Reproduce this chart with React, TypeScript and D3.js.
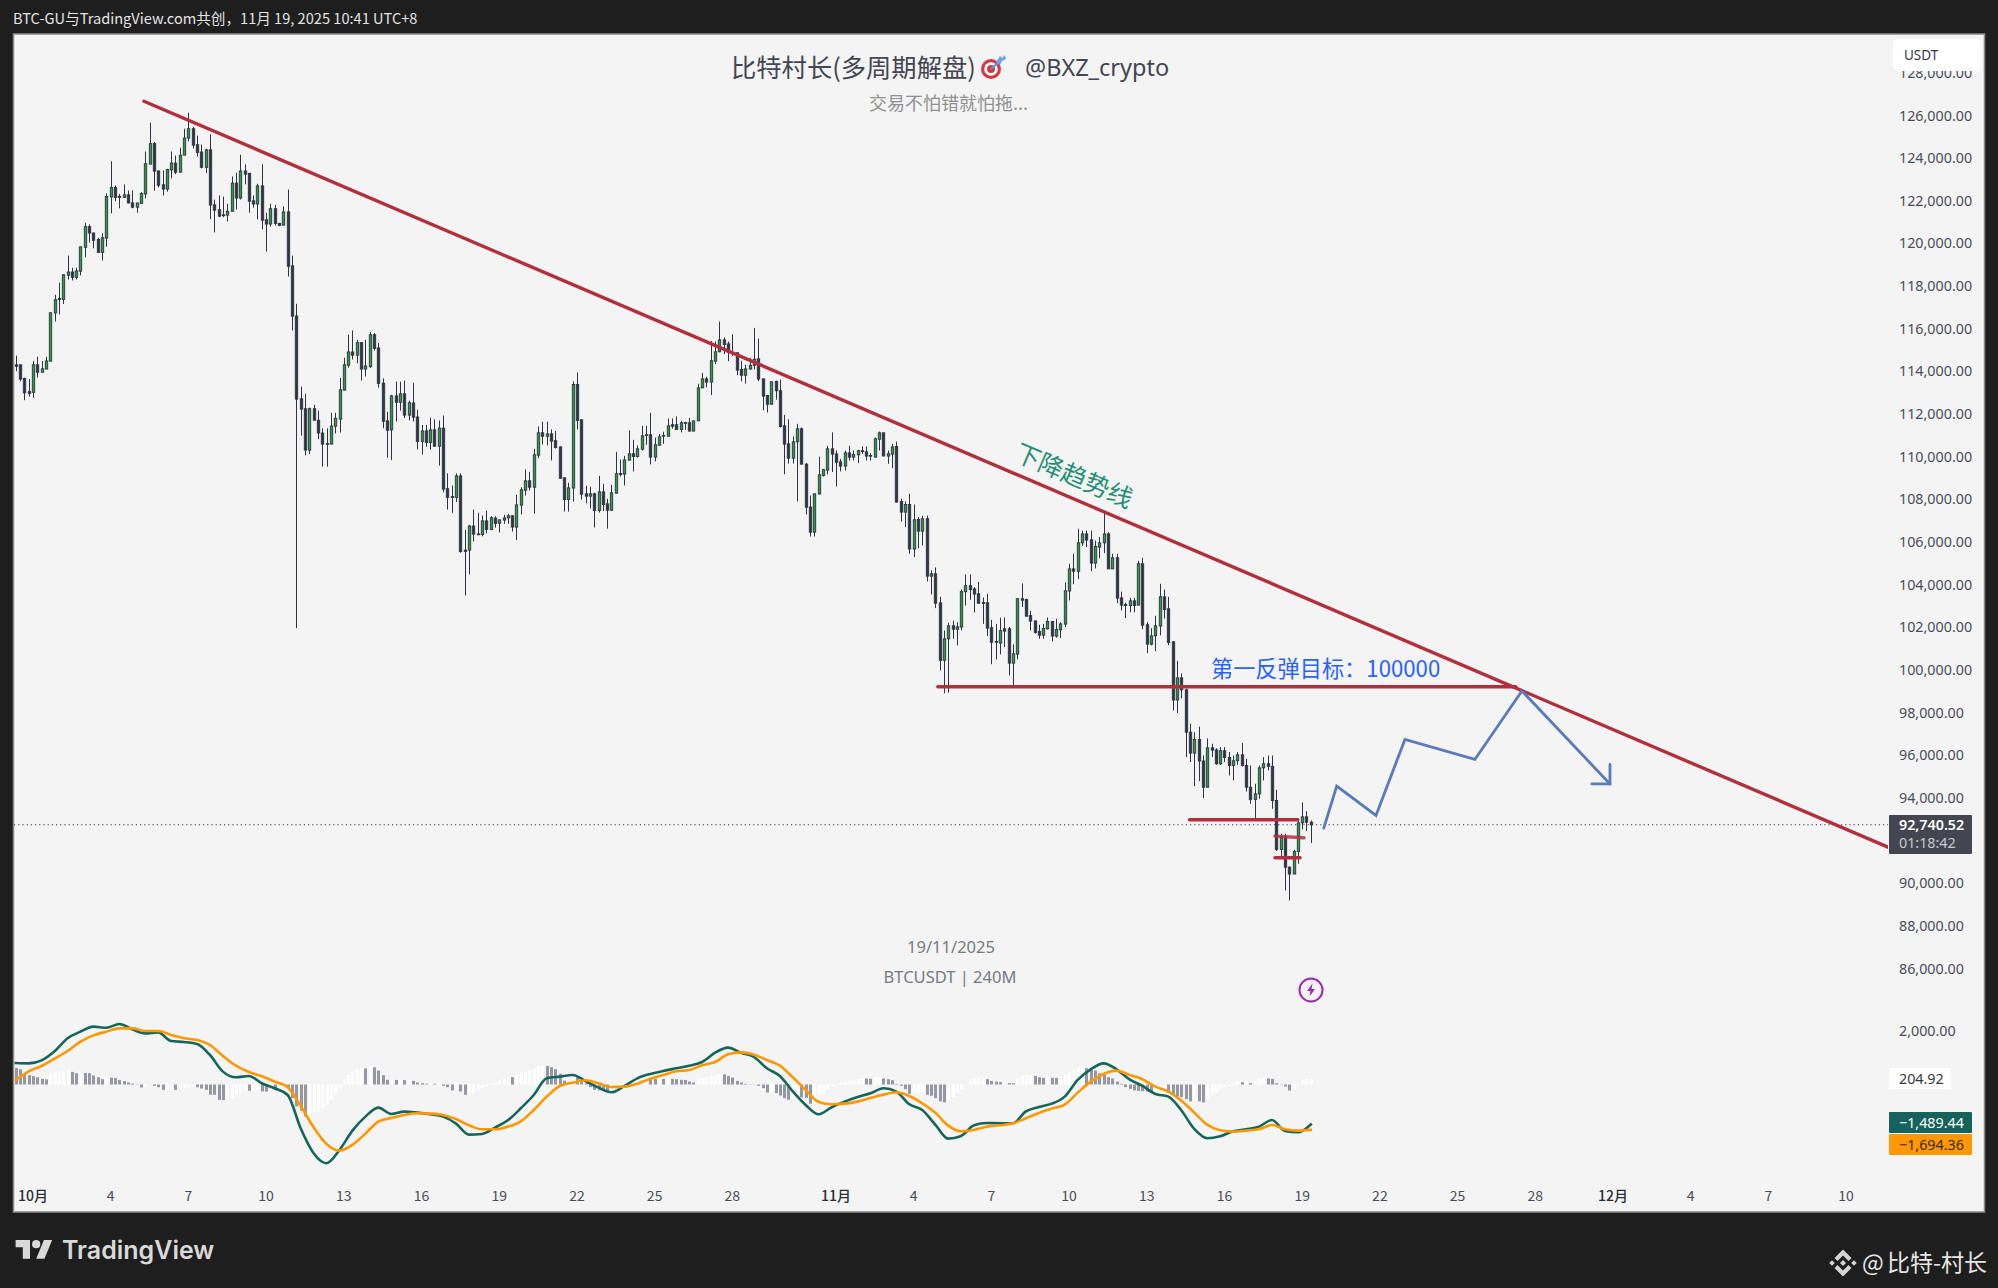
import * as d3 from 'd3'

// 240M BTCUSDT candles as [open, high, low, close], first bar sits 4 bars before the 10月 tick
const candlesOct = [
[114310,114740,114010,114240],[114310,114310,113540,113640],[113670,113710,112650,112990],[113050,113640,112820,112970],
[113020,114490,112770,114310],[114310,114690,113710,113960],[113960,114490,113960,114120],[114110,114690,114110,114490],
[114480,116750,114480,116750],[116740,117590,116340,117360],[117420,118160,116670,117370],[117370,118560,117160,118530],
[118510,119430,118310,118660],[118660,118860,118260,118410],[118410,118860,118310,118710],[118700,119850,118500,119840],
[119820,120970,119350,120790],[120790,120890,120040,120490],[120490,120510,119770,120150],[120190,120270,119570,119580],
[119580,120470,119200,120270],[120250,122350,119850,122200],[122180,123860,121410,122620],[122620,122720,121980,122160],
[122210,122320,121650,122160],[122160,122770,122150,122280],[122280,122480,121880,121900],[121900,122480,121650,121700],
[121700,121900,121440,121900],[121880,122400,121850,122350],[122320,124310,122110,123740],[123720,125660,123720,124680],
[124680,124760,122480,123390],[123400,123420,122630,122730],[122750,123420,122250,122550],[122550,123500,122430,123470],
[123450,124310,123050,123770],[123770,124120,123250,123340],[123340,124490,123340,124140],[124140,125380,124140,124940],
[124940,126130,124790,125380],[125380,125460,124460,124610],[124630,125060,124070,124270],[124290,124640,123520,123570],
[123570,124440,123300,124390],[124390,125110,121140,121800],[121810,122050,120520,121560],[121580,122250,121230,121280],
[121340,122200,121230,121310],[121330,121860,121030,121510],[121510,123140,121510,122830],[122830,123320,121590,122130],
[122130,124160,122060,123400],[123400,123710,122770,123250],[123290,123300,121440,121980],[122000,122250,121680,121850],
[121850,122800,121130,122700],[122700,123710,120660,121090],[121110,121440,119620,120910],[120910,121860,120790,121630],
[121630,121810,120840,120940],[120940,120970,120810,120840],[120860,121730,120840,121480],[121480,122530,118450,118930],
[118950,119430,115920,116590],[116600,117170,101960,112700],[112720,113290,110990,112230],[112250,112950,110070,110310],
[110310,112300,110120,112250],[112250,112430,111710,111710],[111710,112160,110820,111110],[111110,111330,109530,110590],
[110620,111330,109530,110590],[110590,112060,110590,111440],[111430,112060,111090,111800],[111760,113690,111130,113140],
[113120,114640,113120,114310],[114290,115720,114170,114910],[114910,115920,114560,114760],[114760,115480,114380,115350],
[115350,115380,113570,114110],[114110,115480,113760,114260],[114220,115850,114170,115720],[115720,115800,114980,115080],
[115100,115330,113240,113440],[113450,113670,111330,111660],[111680,112110,109950,111240],[111260,112900,109840,112850],
[112850,113520,111650,112550],[112550,113520,112160,112950],[112950,113570,111810,111950],[111950,112630,111700,112530],
[112520,113470,111650,111850],[111860,112200,110340,110720],[110720,111490,110100,111210],[111210,111490,110470,110670],
[110670,111830,110340,111260],[111260,111750,110490,110490],[110490,111700,109580,111340],[111340,111930,108330,108480],
[108500,109220,107520,108090],[108130,108650,107370,108090],[108090,109220,107880,109100],[109100,109220,105500,105550],
[105620,106570,103490,105560],[105620,106800,104480,106750],[106750,107520,106020,106370],[106380,107370,106320,106350],
[106350,107240,106270,106990],[106990,107470,106400,106590],[106590,107210,106550,107140],[107120,107210,106670,106870],
[106880,107040,106450,107040],[107030,107280,106850,107130],[107130,107320,106850,107230],[107230,107240,106490,106700],
[106700,108210,106090,107740],[107730,108570,107290,108450],[108430,109400,108180,108870],[108870,109290,108420,108570],
[108570,110370,107340,110090],[110070,111420,109930,111120],[111120,111640,110570,110960],[110960,111640,110530,111070],
[111070,111280,109820,110730],[110750,111210,110380,110430],[110460,110480,108990,108990],[109010,109010,107430,107990],
[107990,108780,107430,108540],[108530,113530,107900,113390],[113390,113950,111280,111700],[111730,111750,107990,108240],
[108260,108640,107810,108150],[108150,108590,107570,108260],[108260,108310,106680,107480],[107480,109100,107380,108350],
[108350,108730,107450,107760],[107790,108030,106630,107490],[107490,108680,107480,108310],[108290,110230,108280,109200],
[109210,109870,109070,109170],[109180,110040,108650,109850],[109840,111230,109810,110140],[110140,110790,109310,110010],
[110010,110530,109960,110370],[110350,111450,110290,110980],[111000,111450,110560,111030],[111030,112060,109640,109980],
[109980,110900,109780,110560],[110540,111070,110500,110930],[110960,111170,110600,111000],[110960,111790,110950,111450],
[111500,111790,111320,111430],[111500,111890,111280,111280],[111280,111670,111140,111590],[111600,111640,111260,111570],
[111590,111820,111200,111200],[111200,111680,111200,111680],[111680,113420,111680,113230],[113230,113930,113210,113650],
[113650,113750,113250,113500],[113500,115430,112890,114500],[114480,115400,114340,114920],[114920,116340,114900,115480],
[115480,115590,114810,115260],[115290,115400,114480,114890],[114890,115730,114730,114860],[114870,114900,113820,114060],
[114090,114500,113530,113820],[113820,114310,113430,114120],[114110,114640,114090,114290],[114290,116040,114090,114570],
[114590,115540,113540,113640],[113650,113650,112170,112840],[112870,112900,112070,112460],[112460,113530,112460,113510],
[113530,113570,112680,113090],[113090,113620,111370,111420],[111450,111960,109180,110590],[110600,111750,109680,109930],
[109930,110950,109680,110700],[110700,111540,107900,111310],[111310,111370,109650,109650],[109650,109710,107290,107630],
]

const candlesNov = [
[107640,108180,106260,106460],[106460,108260,106260,108260],[108250,110000,108240,109150],[109120,109430,109070,109390],
[109370,110510,109170,110370],[110370,111140,109280,110120],[110130,110290,108600,109740],[109760,109890,109310,109560],
[109560,110290,109350,110180],[110180,110510,109820,109980],[109980,110290,109820,110100],[110090,110320,109700,110280],
[110280,110480,110130,110240],[110230,110480,109820,110030],[110060,110170,109820,110030],[109980,110900,109960,110840],
[110820,111180,110290,111120],[111120,111120,110030,110030],[110030,110290,109670,110140],[110120,110600,109460,110460],
[110480,110710,107870,107870],[107900,108030,106960,107400],[107400,107900,106700,107760],[107760,108260,105450,105670],
[105670,107760,105290,107040],[107060,107170,105710,106510],[106510,107230,105840,107090],[107090,107240,104150,104400],
[104400,104670,103540,104510],[104510,104810,102900,103130],[103150,103430,99980,100450],[100450,101850,98910,101460],
[101460,102210,98940,102070],[102070,102310,101460,101910],[101910,102240,101150,102020],[102010,103770,101850,103670],
[103670,104480,103020,103950],[103950,104480,103290,103770],[103800,103880,102700,103560],[103570,104130,103100,103130],
[103160,103400,102160,103120],[103150,103570,101590,101960],[101980,102350,100270,101300],[101340,102160,100490,101300],
[101260,102450,100730,101840],[101930,102460,101070,101820],[101930,102010,99740,100320],[100320,101200,99230,100760],
[100740,103350,100490,103340],[103340,104060,102950,103270],[103300,103340,102520,102520],[102550,102770,101850,102290],
[102300,102320,101700,101760],[101800,102120,101460,101630],[101630,102160,101460,101950],[101930,102460,101900,102270],
[102270,102270,101340,101590],[101590,102400,101510,101900],[101880,102240,101490,102160],[102150,104100,102010,103710],
[103700,104980,103260,104740],[104740,105450,104020,104630],[104630,106620,104260,105960],[105960,106530,105810,106380],
[106380,106540,105760,106090],[106100,106540,104630,105010],[105010,106070,104760,105790],[105760,106230,105230,105960],
[105960,107480,105480,106380],[106380,106460,104740,104740],[104740,105450,104730,105260],[105260,105450,103130,103370],
[103380,103670,102790,103040],[103070,103160,102430,103020],[103020,103380,102700,103240],[103240,103380,102710,103020],
[103040,105120,103040,104980],[104980,105260,101910,102100],[102120,102240,100790,101210],[101210,101960,101150,101600],
[101600,102540,100880,102070],[102060,104040,101620,103430],[103430,103770,102410,102840],[102870,103430,101160,101290],
[101320,101340,98100,98590],[98590,100430,97980,99630],[99630,99840,98660,99070],[99070,99120,95910,97080],
[97080,97480,95680,96100],[96100,97080,94550,96740],[96740,97340,94790,95730],[95730,95990,93990,94500],
[94500,96790,94500,96350],[96350,96540,95910,96240],[96250,96330,95550,95600],[95600,96380,95550,96210],
[96210,96380,95680,95900],[95900,96150,95050,95520],[95520,95990,94820,95740],[95740,96150,95550,96020],
[96020,96580,95470,95520],[95520,95830,94300,94500],[94500,95520,93720,93930],[93930,94660,92970,94190],
[94190,95520,93960,95410],[95410,95910,94820,95600],[95600,95990,95290,95480],[95480,95990,93490,93880],
[93880,94380,91510,91580],[91580,92320,91150,92160],[92160,92320,89660,90750],[90750,90790,89190,90430],
[90430,91570,90430,91490],[91490,93020,90910,92830],[92830,93790,92520,93110],[93110,93370,92440,92860],
[92860,92940,91880,92740],
]

// MACD and signal, read every third bar starting at bar -4
const macdLine = [
803,790,902,1238,1723,1971,2158,2120,2257,2058,1909,1946,1623,1586,1511,1101,480,268,318,45,-142,-391,-1634,-2566,-2939,
-2442,-1721,-1199,-863,-1099,-1012,-1049,-1111,-1199,-1460,-1870,-1845,-1609,-1335,-888,-391,231,293,355,131,-117,-291,-55,231,393,504,604,703,
840,1188,1375,1188,1026,604,318,-254,-763,-1111,-850,-639,-465,-328,-142,-266,-739,-950,-1497,-2019,-1919,-1522,-1435,-1447,-1447,
-1000,-838,-714,-453,169,567,790,567,194,-55,-353,-453,-962,-1658,-2006,-1932,-1745,-1671,-1571,-1323,-1733,-1783,-1489.44,
]
const signalLine = [
169,492,691,964,1250,1598,1834,1971,2095,2095,1996,1996,1847,1723,1660,1474,1064,703,467,306,107,-105,-801,-1596,-2218,
-2466,-2255,-1832,-1385,-1248,-1136,-1074,-1087,-1136,-1286,-1522,-1671,-1671,-1571,-1373,-950,-453,-55,69,156,45,-92,-80,32,218,355,492,542,
716,840,1126,1200,1113,915,703,268,-204,-652,-739,-714,-639,-502,-378,-291,-428,-701,-1049,-1534,-1745,-1696,-1571,-1522,-1447,
-1261,-1062,-900,-751,-304,107,393,517,355,194,-80,-266,-602,-1049,-1497,-1708,-1758,-1720,-1671,-1509,-1671,-1720,-1694.36,
]

// histogram, one value per bar
const histValues = [
620,570,400,350,310,270,210,190,370,440,480,510,515,470,420,
440,430,420,335,270,200,260,255,240,170,125,75,35,
-10,-110,-50,-10,-50,-100,-200,-190,-180,-200,-170,-140,-100,-70,-100,-150,-200,
-380,-385,-570,-580,-570,-510,-385,-300,-225,-235,-225,-215,-260,-265,-200,-210,-130,-100,-105,
-510,-820,-980,-1190,-1130,-1040,-1000,-880,-750,-570,-320,-120,200,360,480,570,
610,600,650,640,520,350,175,180,170,175,165,170,135,75,50,25,50,25,50,
-50,-100,-220,-180,-260,-385,-320,-300,-220,-140,-75,25,75,150,220,275,270,335,420,480,545,580,
695,710,695,645,570,400,140,170,300,270,110,50,-100,-200,-220,-240,-260,
-100,-75,-25,75,135,175,235,270,300,235,210,270,210,235,210,200,
175,170,110,75,200,260,285,320,360,385,380,320,260,135,75,25,10,5,-50,-135,-300,
-290,-320,-410,-510,-570,-535,-470,-480,-500,-720,-570,-385,-320,-175,-75,0,50,100,135,175,210,225,220,215,270,275,225,200,160,
25,-50,-175,-350,-300,-295,-290,-385,-420,-510,-630,-670,-570,-470,-320,-175,25,135,200,225,235,
200,135,110,90,100,50,45,235,320,360,365,320,270,250,270,250,245,270,360,480,545,610,620,
610,600,520,420,360,270,225,110,25,-100,-160,-220,-240,-250,-270,-290,-270,-240,-210,
-320,-360,-440,-470,-545,-630,-570,-630,-670,-510,-385,-300,-175,-100,-50,25,110,85,100,50,125,200,250,225,210,50,-10,-75,-225,-175,-50,125,200,204.92,
]

const timeTicks: [number, string][] = [
  [0, '10月'], [18, '4'], [36, '7'], [54, '10'], [72, '13'], [90, '16'], [108, '19'], [126, '22'], [144, '25'], [162, '28'],
  [186, '11月'], [204, '4'], [222, '7'], [240, '10'], [258, '13'], [276, '16'], [294, '19'], [312, '22'], [330, '25'], [348, '28'],
  [366, '12月'], [384, '4'], [402, '7'], [420, '10'],
]
const priceTicks = d3.range(86000, 128001, 2000).filter(p => p !== 92000)

// drawings, each point is [bar, price]
const trendLine: [number, number][] = [[25.7, 126670], [429.7, 91690]]
const supportLine: [number, number][] = [[209.6, 99212], [343.5, 99212]]
const zoneTop: [number, number][] = [[267.9, 92974], [293, 92974]]
const zoneMid: [number, number][] = [[287.7, 92210], [294.4, 92130]]
const zoneLow: [number, number][] = [[287.7, 91194], [293.5, 91194]]
const forecastPath: [number, number][] = [[299, 92581], [302, 94551], [311.1, 93177], [317.8, 96741], [334, 95803], [344.9, 99015], [365.3, 94655]]
const arrowHead: [number, number][] = [[361.1, 94655], [365.3, 94655], [365.3, 95568]]

const LAST_PRICE = 92740.52
const UI_FONT = '"Noto Sans", "Noto Sans CJK SC", sans-serif'
const CJK_FONT = '"Noto Sans CJK SC", "Noto Sans", sans-serif'

const x = d3.scaleLinear().domain([0, 366]).range([33, 1613])
const yPrice = d3.scaleLinear().domain([86000, 126000]).range([968.5, 115.5])
const yMacd = d3.scaleLinear().domain([0, 2000]).range([1084.5, 1030.9])

const drawLine = d3.line<[number, number]>().x(d => x(d[0])).y(d => yPrice(d[1]))

function Candles() {
  const candles = [...candlesOct, ...candlesNov]
  return (
    <g>
      {candles.map(([o, h, l, c], i) => {
        const cx = Math.round(x(i - 4)) + 0.5
        const top = yPrice(Math.max(o, c))
        const bottom = yPrice(Math.min(o, c))
        return (
          <g key={i}>
            <line x1={cx} x2={cx} y1={yPrice(h)} y2={yPrice(l)} stroke="#2f3443" strokeWidth={1} />
            <rect
              x={cx - 1.2}
              y={top}
              width={2.4}
              height={Math.max(bottom - top, 0.8)}
              fill={c >= o ? '#26a03c' : '#2f3443'}
              stroke="#2f3443"
              strokeWidth={0.9}
            />
          </g>
        )
      })}
    </g>
  )
}

function MacdPane() {
  const macdX = (k: number) => x(-4 + k * 3)
  const line = d3.line<number>().x((_, k) => macdX(k)).y(d => yMacd(d)).curve(d3.curveMonotoneX)
  return (
    <g>
      {histValues.map((v, i) => {
        const rising = i === 0 ? false : v >= histValues[i - 1]
        const bx = Math.round(x(i - 4)) - 1
        const y0 = yMacd(0)
        const y1 = yMacd(v)
        return (
          <rect
            key={i}
            x={bx}
            y={Math.min(y0, y1)}
            width={3}
            height={Math.abs(y1 - y0)}
            fill={rising ? '#ffffff' : '#9598a1'}
          />
        )
      })}
      <path d={line(macdLine) ?? ''} fill="none" stroke="#14665a" strokeWidth={2.6} strokeLinecap="square" />
      <path d={line(signalLine) ?? ''} fill="none" stroke="#ff9800" strokeWidth={2.6} strokeLinecap="square" />
    </g>
  )
}

function PriceAxis() {
  const labelX = 1899
  return (
    <g fontFamily={UI_FONT} fontSize={14.3} fill="#4a4d57">
      {priceTicks.map(p => (
        <text key={p} x={labelX} y={yPrice(p)} dy="0.35em">
          {d3.format(',.2f')(p)}
        </text>
      ))}
      <text x={labelX} y={yMacd(2000)} dy="0.35em">2,000.00</text>

      <rect x={1893} y={39} width={88} height={32} rx={5} fill="#ffffff" />
      <text x={1904} y={55} dy="0.35em" fill="#333744" fontSize={13.5}>USDT</text>

      <rect x={1889} y={815} width={83} height={39} rx={1} fill="#434651" />
      <text x={1899} y={825} dy="0.35em" fill="#ffffff" fontWeight={600}>92,740.52</text>
      <text x={1899} y={843} dy="0.35em" fill="#c9cad0">01:18:42</text>

      <rect x={1889} y={1068} width={62} height={21} rx={1} fill="#ffffff" />
      <text x={1899} y={1078.5} dy="0.35em" fill="#333744">204.92</text>

      <rect x={1889} y={1112} width={83} height={21} rx={1} fill="#15635a" />
      <text x={1899} y={1122.5} dy="0.35em" fill="#ffffff">−1,489.44</text>

      <rect x={1889} y={1134} width={83} height={21} rx={1} fill="#ff9800" />
      <text x={1899} y={1144.5} dy="0.35em" fill="#3a2a10">−1,694.36</text>
    </g>
  )
}

function TimeAxis() {
  return (
    <g fontFamily={CJK_FONT} fontSize={14} fill="#4a4d57" textAnchor="middle">
      {timeTicks.map(([bar, label]) => {
        const isMonth = label.includes('月')
        return (
          <text key={bar} x={x(bar)} y={1196} dy="0.35em" fontWeight={isMonth ? 500 : 400} fill={isMonth ? '#2a2d36' : '#4a4d57'}>
            {label}
          </text>
        )
      })}
    </g>
  )
}

function Annotations() {
  const red = '#b22f3e'
  return (
    <g fill="none" strokeLinecap="round">
      <path d={drawLine(trendLine) ?? ''} stroke={red} strokeWidth={3.4} />
      <path d={drawLine(supportLine) ?? ''} stroke={red} strokeWidth={3.4} />
      <path d={drawLine(zoneTop) ?? ''} stroke={red} strokeWidth={3.4} />
      <path d={drawLine(zoneMid) ?? ''} stroke={red} strokeWidth={3.4} strokeOpacity={0.85} />
      <path d={drawLine(zoneLow) ?? ''} stroke={red} strokeWidth={3.4} />
      <path d={drawLine(forecastPath) ?? ''} stroke="#5a7abb" strokeWidth={2.8} />
      <path d={drawLine(arrowHead) ?? ''} stroke="#5a7abb" strokeWidth={2.8} />
    </g>
  )
}

function Labels() {
  return (
    <g fontFamily={CJK_FONT}>
      <text x={731} y={68} dy="0.35em" fontSize={25.3} fill="#434651">比特村长(多周期解盘)</text>
      <g transform="translate(991,69)">
        <circle r={10} fill="#cf3b42" />
        <circle r={6.8} fill="#ffffff" />
        <circle r={4} fill="#cf3b42" />
        <path d="M0,0 L9,-8" stroke="#5f93e0" strokeWidth={2} />
        <path d="M5,-7 L9,-13 L11,-11 L14,-14 L15,-10 L11,-8 L9,-4 Z" fill="#6fa3ee" />
      </g>
      <text x={1025} y={68} dy="0.35em" fontFamily={UI_FONT} fontSize={23.5} fill="#434651">@BXZ_crypto</text>
      <text x={869} y={104} dy="0.35em" fontSize={18} fill="#909090">交易不怕错就怕拖...</text>

      <text x={951} y={947} dy="0.35em" textAnchor="middle" fontFamily={UI_FONT} fontSize={16.5} fill="#777a82">19/11/2025</text>
      <text x={950} y={977} dy="0.35em" textAnchor="middle" fontFamily={UI_FONT} fontSize={16.5} fill="#777a82">BTCUSDT | 240M</text>

      <text transform="translate(1074,476) rotate(23.2)" textAnchor="middle" dy="0.35em" fontSize={25} fill="#1f8f75">下降趋势线</text>
      <text x={1211} y={669} dy="0.35em" fontSize={22.2} fill="#2962ff">第一反弹目标：100000</text>

      <g transform="translate(1311,990)">
        <circle r={11.5} fill="none" stroke="#9c27b0" strokeWidth={2} />
        <path d="M1.5,-6.5 L-4,1 L-0.5,1 L-1.5,6.5 L4,-1 L0.5,-1 Z" fill="#9c27b0" />
      </g>
    </g>
  )
}

function Chrome() {
  return (
    <g>
      <text x={13} y={19} dy="0.35em" fontFamily={CJK_FONT} fontSize={14.6} fill="#e3e3e3">
        BTC-GU与TradingView.com共创，11月 19, 2025 10:41 UTC+8
      </text>
      <g transform="translate(15.6,1236) scale(1.03)" fill="#d9d9d9">
        <path d="M14 22H7V11H0V4h14v18zM28 22h-8l7.5-18h8L28 22z" />
        <circle cx={20} cy={8} r={4} />
      </g>
      <text x={62} y={1250} dy="0.35em" fontFamily='"Inter", "Noto Sans", sans-serif' fontWeight={600} fontSize={25} fill="#d9d9d9">TradingView</text>
      <g transform="translate(1843,1263)" fill="#d4d4d4">
        <path d="M0,-13.5 L8.5,-5 L5.5,-2 L0,-7.5 L-5.5,-2 L-8.5,-5 Z" />
        <path d="M0,13.5 L8.5,5 L5.5,2 L0,7.5 L-5.5,2 L-8.5,5 Z" />
        <path d="M0,-3 L3,0 L0,3 L-3,0 Z" />
        <path d="M-11,-2.8 L-8.2,0 L-11,2.8 L-13.8,0 Z" />
        <path d="M11,-2.8 L13.8,0 L11,2.8 L8.2,0 Z" />
      </g>
      <text x={1862} y={1263} dy="0.35em" fontFamily={CJK_FONT} fontSize={23} fill="#e6e6e6">@</text>
      <text x={1887} y={1263} dy="0.35em" fontFamily={CJK_FONT} fontSize={23} fill="#e6e6e6">比特-村长</text>
    </g>
  )
}

export default function App() {
  return (
    <svg width={1998} height={1288} style={{ position: 'fixed', left: 0, top: 0, display: 'block' }}>
      <defs>
        <clipPath id="plot">
          <rect x={14} y={34} width={1874} height={1178} />
        </clipPath>
      </defs>
      <rect width={1998} height={1288} fill="#1e1e1e" />
      <rect x={13.5} y={34} width={1971} height={1178} fill="#f4f4f4" stroke="#8a8a8a" strokeWidth={1.5} />
      <g clipPath="url(#plot)">
        <line x1={14} x2={1888} y1={yPrice(LAST_PRICE)} y2={yPrice(LAST_PRICE)} stroke="#333" strokeDasharray="1.2 3" />
        <Candles />
        <MacdPane />
        <Annotations />
      </g>
      <Labels />
      <PriceAxis />
      <TimeAxis />
      <Chrome />
    </svg>
  )
}
